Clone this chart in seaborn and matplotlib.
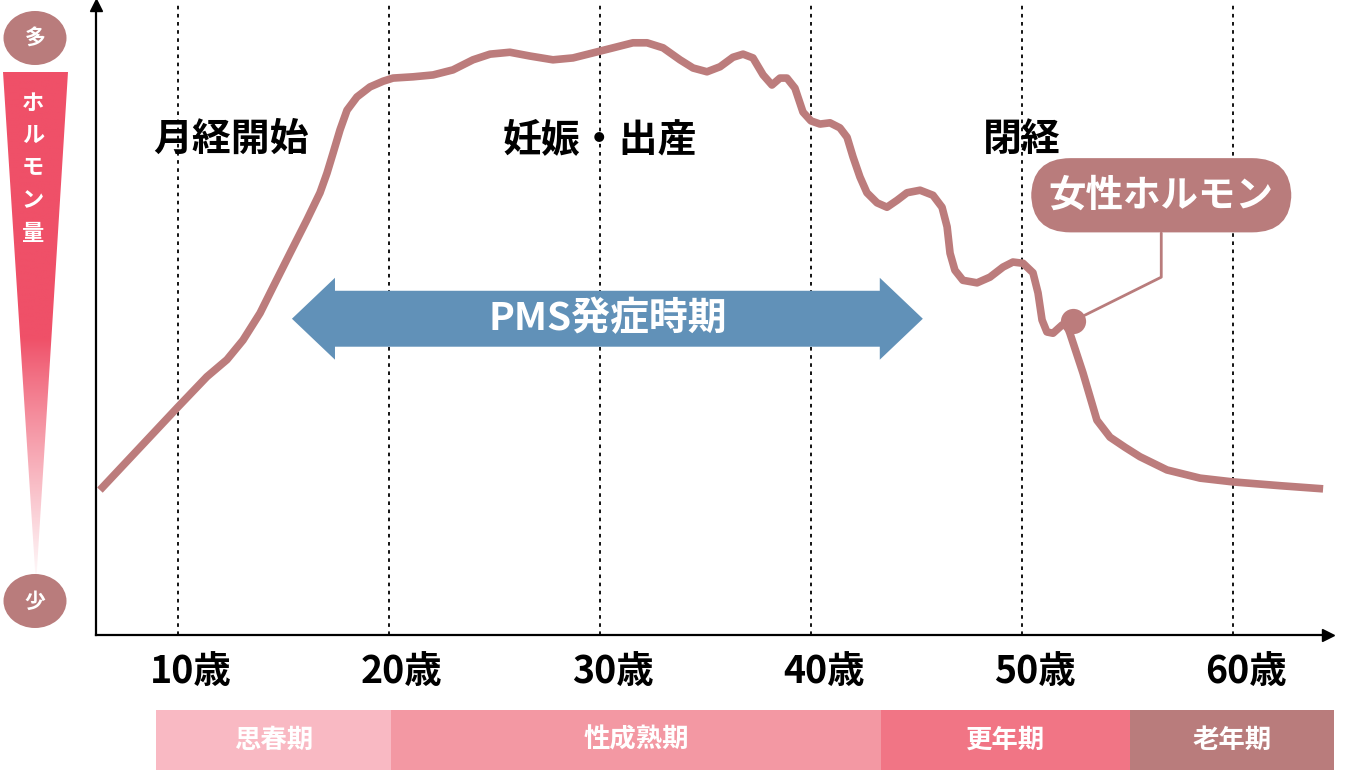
import numpy as np
import matplotlib
matplotlib.use("Agg")
import matplotlib.pyplot as plt
import matplotlib.transforms as mtransforms
from matplotlib.patches import Polygon, Ellipse
import seaborn as sns

# ------------------------------------------------------------
# データ (年齢 / ホルモン量 0-100 の相対値)
# ------------------------------------------------------------
ages = [6.30, 10.00, 11.37, 12.32, 13.08, 13.89, 14.50, 15.31, 16.11, 16.73,
        17.06, 17.35, 17.68, 18.01, 18.48, 19.10, 19.72, 20.19, 21.14, 22.09,
        23.03, 23.98, 24.79, 25.73, 26.68, 27.77, 28.72, 29.67, 30.62, 31.56,
        32.23, 32.99, 33.79, 34.41, 35.07, 35.69, 36.30, 36.78, 37.25, 37.73,
        38.15, 38.53, 38.86, 39.24, 39.62, 40.00, 40.43, 40.90, 41.37, 41.71,
        41.99, 42.32, 42.65, 43.13, 43.60, 44.08, 44.55, 45.17, 45.78, 46.21,
        46.45, 46.59, 46.82, 47.20, 47.87, 48.48, 49.10, 49.57, 50.05, 50.52,
        50.76, 50.95, 51.18, 51.47, 51.90, 52.09, 52.27, 52.89, 53.55, 54.17,
        54.88, 55.59, 56.87, 58.44, 60.00, 62.23, 64.27]
levels = [23.0, 36.2, 41.0, 43.7, 46.8, 51.1, 55.2, 60.6, 65.9, 70.2,
          73.3, 76.5, 80.2, 83.3, 85.4, 87.0, 87.9, 88.4, 88.6, 88.9,
          89.7, 91.3, 92.2, 92.5, 91.9, 91.3, 91.6, 92.4, 93.2, 94.0,
          94.0, 93.2, 91.3, 90.0, 89.4, 90.2, 91.7, 92.2, 91.6, 88.9,
          87.3, 88.4, 88.4, 86.8, 83.0, 81.6, 81.1, 81.3, 80.5, 79.0,
          75.9, 72.7, 70.2, 68.6, 67.9, 69.0, 70.2, 70.6, 69.8, 67.9,
          64.8, 60.6, 57.9, 56.3, 55.9, 56.8, 58.4, 59.2, 59.0, 57.5,
          54.3, 50.0, 48.1, 47.9, 49.2, 49.5, 47.9, 41.6, 34.1, 31.4,
          29.8, 28.3, 26.2, 24.9, 24.3, 23.7, 23.2]

tick_ages = [10, 20, 30, 40, 50, 60]
tick_labels = ["10歳", "20歳", "30歳", "40歳", "50歳", "60歳"]

event_names = ["月経開始", "妊娠・出産", "閉経"]
event_ages = [12.5, 30.0, 50.0]
event_level = 78.6

stage_names = ["思春期", "性成熟期", "更年期", "老年期"]
stage_bounds = [8.96, 20.1, 43.3, 55.1, 64.8]
stage_colors = ["#F9B9C3", "#F398A3", "#F17585", "#B97C7C"]

pms_label = "PMS発症時期"
pms_start, pms_end = 15.4, 45.3
pms_level = 50.2

hormone_label = "女性ホルモン"
marker_age, marker_level = 52.4, 49.8
callout_age, callout_level, box_level = 56.6, 56.8, 63.8
box_center_level = 69.8

# ------------------------------------------------------------
# スタイル
# ------------------------------------------------------------
sns.set_style("white")
plt.rcParams["font.family"] = ["Noto Sans CJK JP", "DejaVu Sans"]

curve_color = "#BC7C7C"
pill_color = "#B97C7C"
arrow_color = "#6191B8"
grad_color = np.array([0xEF, 0x50, 0x68]) / 255

W, H = 1366, 770
fig = plt.figure(figsize=(W / 100, H / 100), dpi=100)

# 装飾用のピクセル座標軸 (左の量バー)
deco = fig.add_axes([0, 0, 1, 1], zorder=0)
deco.set_xlim(0, W)
deco.set_ylim(H, 0)
deco.axis("off")

# グラデーションの三角形
n = 300
t = np.linspace(0, 1, n)
fade = np.clip((t - 0.52) / 0.48, 0, 1) ** 0.9
rgb = grad_color[None, :] * (1 - fade[:, None]) + np.ones(3)[None, :] * fade[:, None]
im = deco.imshow(rgb[:, None, :], extent=(3, 68, 585, 72), aspect="auto",
                 origin="upper", interpolation="bilinear")
tri = Polygon([(3, 72), (68, 72), (36, 585)], closed=True, transform=deco.transData)
im.set_clip_path(tri)

for i, ch in enumerate("ホルモン量"):
    deco.text(33, 103 + i * 32.5, ch, color="white", fontsize=16, fontweight="bold",
              ha="center", va="center")

for cy, ch in [(38, "多"), (601, "少")]:
    deco.add_patch(Ellipse((35, cy), 63, 54, color=pill_color, lw=0))
    deco.text(35, cy, ch, color="white", fontsize=15, fontweight="bold",
              ha="center", va="center")

# ------------------------------------------------------------
# メインのグラフ
# ------------------------------------------------------------
x0, x1 = 96, 1328
y_top, y_bot = 5, 635
px_per_year = 21.1
age_left = 10 + (x0 - 178) / px_per_year
age_right = 10 + (x1 - 178) / px_per_year

ax = fig.add_axes([x0 / W, (H - y_bot) / H, (x1 - x0) / W, (y_bot - y_top) / H], zorder=1)
ax.patch.set_alpha(0)
ax.set_xlim(age_left, age_right)
ax.set_ylim(0, 100)

for a in tick_ages:
    ax.axvline(a, color="black", lw=1.3, ls=(0, (2, 2.5)), zorder=1)

# PMS 矢印
hl, sh, hh = 2.04, 4.44, 6.5
c = pms_level
arrow_pts = [(pms_start, c), (pms_start + hl, c + hh), (pms_start + hl, c + sh),
             (pms_end - hl, c + sh), (pms_end - hl, c + hh), (pms_end, c),
             (pms_end - hl, c - hh), (pms_end - hl, c - sh),
             (pms_start + hl, c - sh), (pms_start + hl, c - hh)]
ax.add_patch(Polygon(arrow_pts, closed=True, color=arrow_color, lw=0, zorder=3))
ax.text((pms_start + pms_end) / 2, c, pms_label, color="white", fontsize=28,
        fontweight="bold", ha="center", va="center", zorder=4)

# ホルモン曲線
sns.lineplot(x=ages, y=levels, ax=ax, color=curve_color, lw=5.5, sort=False,
             solid_capstyle="butt", solid_joinstyle="round", zorder=5)

# 吹き出し
ax.plot([marker_age, callout_age, callout_age], [marker_level, callout_level, box_level],
        color=pill_color, lw=2, zorder=5)
sns.scatterplot(x=[marker_age], y=[marker_level], ax=ax, color=curve_color, s=330,
                linewidth=0, zorder=6)
ax.text(callout_age, box_center_level, hormone_label, color="white", fontsize=27,
        fontweight="bold", ha="center", va="center", zorder=6,
        bbox=dict(boxstyle="round,pad=0.47,rounding_size=1.05", fc=pill_color, ec="none"))

# イベントラベル
for name, a in zip(event_names, event_ages):
    ax.text(a, event_level, name, color="black", fontsize=28, fontweight="bold",
            ha="center", va="center", zorder=4)

# 軸
sns.despine(ax=ax)
for side in ["left", "bottom"]:
    ax.spines[side].set_color("black")
    ax.spines[side].set_linewidth(1.6)
ax.plot(0, 1, marker="^", color="black", ms=8, transform=ax.transAxes, clip_on=False)
ax.plot(1, 0, marker=">", color="black", ms=8, transform=ax.transAxes, clip_on=False)
ax.set_yticks([])
ax.set_xticks(tick_ages)
ax.set_xticklabels(tick_labels, fontsize=27, fontweight="bold", color="black")
ax.tick_params(axis="x", length=0, pad=12)
shift = mtransforms.ScaledTranslation(13 / 100, 0, fig.dpi_scale_trans)
for lab in ax.get_xticklabels():
    lab.set_transform(lab.get_transform() + shift)

# ------------------------------------------------------------
# ライフステージ帯
# ------------------------------------------------------------
bx1 = 1334
band = fig.add_axes([x0 / W, 0, (bx1 - x0) / W, 60 / H], zorder=1)
band.set_xlim(age_left, 10 + (bx1 - 178) / px_per_year)
band.set_ylim(0, 1)
band.axis("off")
for name, lo, hi, col in zip(stage_names, stage_bounds[:-1], stage_bounds[1:], stage_colors):
    band.barh(0.5, hi - lo, left=lo, height=1, color=col, lw=0)
    band.text((lo + hi) / 2, 0.5, name, color="white", fontsize=19, fontweight="bold",
              ha="center", va="center")

fig.savefig("out.png", dpi=100)
